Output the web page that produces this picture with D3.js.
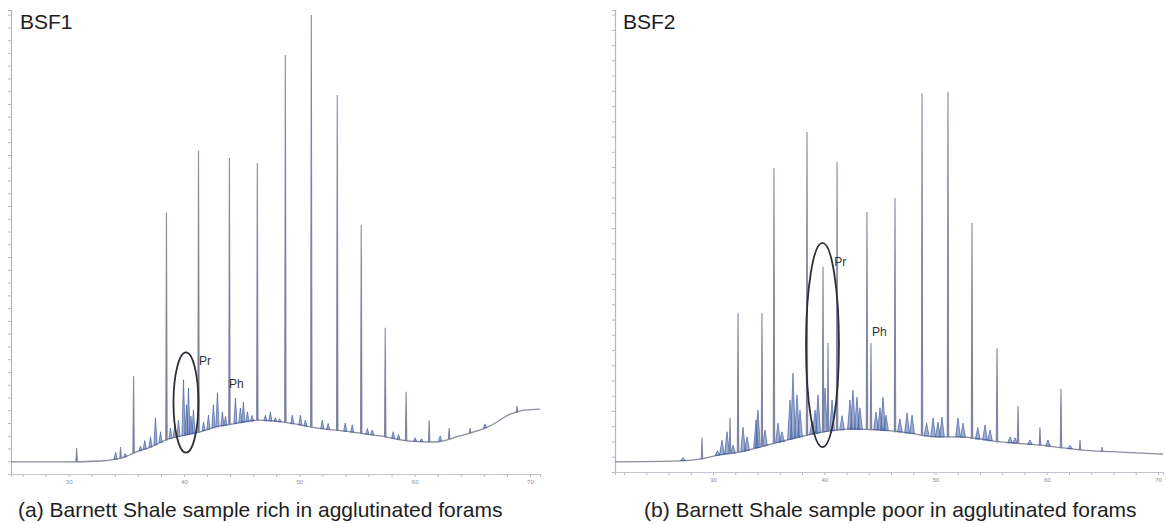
<!DOCTYPE html>
<html><head><meta charset="utf-8">
<script src="https://cdn.jsdelivr.net/npm/d3@7"></script>
<style>
body{margin:0;background:#fff}
svg{display:block}
text{font-family:"Liberation Sans",Arial,Helvetica,sans-serif}
</style>
</head><body>
<svg id="c" width="1166" height="523"></svg>
<script>
// ---------- DATA (retention time in minutes, relative intensity 0-100) ----------
const xTickLabels = [30, 40, 50, 60, 70];
const panelTitles = ["BSF1", "BSF2"];
const captions = ["(a) Barnett Shale sample rich in agglutinated forams",
                  "(b) Barnett  Shale sample poor in agglutinated forams"];
const peakLabels = ["Pr", "Ph"];

// Panel A (BSF1)
const baselineA = [[25.0,2.6],[29.3,2.6],[32.8,2.8],[34.1,3.2],[34.9,3.7],[35.6,4.5],[37.1,5.8],
  [38.6,7.5],[40.1,8.4],[41.4,9.1],[42.7,10.1],[44.3,10.8],[46.4,11.6],[48.6,11.2],[51.6,9.9],
  [54.4,9.1],[57.0,8.2],[59.6,7.1],[61.8,6.9],[63.9,8.2],[66.5,10.3],[68.3,12.9],[69.6,13.8],[70.87,14.0]];
const peaksA = [[30.69,5.6],[34.50,5.8],[35.63,21.1],[38.48,56.3],[41.26,69.6],[43.94,68.1],
  [46.36,67.0],[48.79,90.3],[51.04,98.9],[53.29,81.7],[55.37,53.7],[57.45,31.5],[59.26,17.7],
  [61.26,11.6],[62.99,9.9],[64.81,9.9],[68.87,14.7]];
const noiseA = [[34.07,4.7],[34.9,4.4],[36.23,6.0],[36.6,7.2],[37.10,8.0],[37.53,12.1],[37.97,9.1],
  [38.83,9.9],[39.2,10.8],[39.52,11.6],[39.96,20.3],[40.22,14.9],[40.39,18.5],[40.6,12.5],[40.82,13.8],
  [41.7,11.2],[42.12,12.7],[42.55,14.9],[42.90,17.5],[43.33,13.4],[43.6,12.4],[44.46,16.4],[44.89,14.2],
  [45.15,15.5],[45.50,13.4],[45.9,12.6],[47.06,12.7],[47.49,13.4],[47.92,12.1],[48.3,11.9],[49.39,12.7],
  [50.09,12.7],[50.52,11.6],[51.99,11.6],[52.5,10.9],[53.98,11.0],[54.59,10.6],[55.9,9.8],[56.32,9.5],
  [58.14,9.1],[58.6,8.5],[60.04,7.8],[60.6,7.6],[62.21,8.2],[66.10,10.8]];

// Panel B (BSF2)
const baselineB = [[21.19,2.2],[27.0,2.4],[28.8,2.8],[30.6,3.7],[32.4,4.3],[34.2,5.4],[36.0,6.5],
  [37.8,7.6],[39.9,8.7],[42.3,9.3],[45.0,9.1],[47.7,8.4],[50.0,7.6],[52.2,7.6],[55.8,6.5],
  [59.4,5.8],[63.0,4.8],[66.6,4.3],[70.45,3.9]];
const peaksB = [[29.01,7.4],[31.53,11.7],[32.25,34.4],[34.40,34.4],[35.48,65.8],[38.45,73.6],
  [39.89,44.4],[40.34,27.9],[41.15,67.1],[43.84,56.3],[44.20,27.9],[46.36,59.3],[48.79,82.0],
  [51.12,82.3],[53.28,53.9],[55.53,26.8],[57.42,14.3],[59.39,9.7],[61.28,18.0],[62.99,6.9],[64.97,5.4]];
const noiseB = [[27.3,3.1],[30.4,4.6],[30.81,6.9],[31.26,8.7],[31.80,5.8],[32.70,9.7],[33.06,7.6],
  [33.87,11.3],[34.04,13.4],[34.67,9.1],[35.84,10.6],[36.20,8.7],[36.92,15.6],[37.19,21.4],[37.55,16.7],
  [37.82,13.4],[38.9,11.0],[39.17,13.4],[39.44,16.7],[40.07,18.2],[40.70,15.6],[41.6,12.2],[42.31,15.6],
  [42.58,17.7],[42.94,16.2],[43.21,13.9],[44.65,13.0],[45.01,13.9],[45.28,16.2],[45.55,12.3],[46.8,11.5],
  [47.44,12.8],[47.89,12.3],[49.2,10.6],[49.78,11.7],[50.22,10.8],[50.58,11.9],[52.02,11.7],[52.47,10.6],
  [53.8,9.6],[54.45,10.2],[54.90,9.1],[56.70,7.6],[57.15,7.4],[58.49,6.9],[60.11,6.9],[62.09,5.8]];

// ---------- DRAW ----------
const svg = d3.select("#c");

function drawPanel(o) {
  const g = svg.append("g");
  const x = d3.scaleLinear().domain(o.tDomain).range(o.xRange);
  const y = d3.scaleLinear().domain([0, 100]).range(o.yRange);
  const base = d3.scaleLinear().domain(o.baseline.map(d => d[0])).range(o.baseline.map(d => d[1])).clamp(true);

  // y axis (unlabelled ticks)
  const yAxis = d3.axisLeft(y).tickValues(d3.range(0, 100.01, o.yStep)).tickSize(3).tickFormat("");
  const ya = g.append("g").attr("transform", `translate(${o.xRange[0]},0)`).call(yAxis);
  ya.select(".domain").attr("stroke", "#b8b8c4").attr("stroke-width", 1.2);
  ya.selectAll(".tick line").attr("stroke", "#b8b8c4");

  // x axis
  const minor = d3.range(Math.ceil(o.tDomain[0] / 2) * 2, o.tDomain[1], 2);
  const xAxis = d3.axisBottom(x).tickValues(minor).tickSize(3).tickPadding(3)
    .tickFormat(d => xTickLabels.includes(d) ? d : "");
  const xa = g.append("g").attr("transform", `translate(0,${o.yRange[0]})`).call(xAxis);
  xa.select(".domain").attr("stroke", "#c4c4d0").attr("stroke-width", 1.2);
  xa.selectAll(".tick line").attr("stroke", "#b8b8c4");
  xa.selectAll(".tick text").attr("fill", "#8a8a9a").style("font-size", "6px");

  // baseline
  g.append("path").datum(o.baseline)
    .attr("d", d3.line().x(d => x(d[0])).y(d => y(d[1])).curve(d3.curveMonotoneX))
    .attr("fill", "none").attr("stroke", "#8a8c9e").attr("stroke-width", 1.3);

  const spike = (w) => d => {
    const xc = x(d[0]), yb = y(base(d[0])), yt = y(d[1]);
    return `M${xc - w},${yb}L${xc},${yt}L${xc + w},${yb}Z`;
  };
  // blue unresolved / minor peaks
  g.selectAll(".noise").data(o.noise).enter().append("path")
    .attr("d", spike(o.noiseW)).attr("fill", "#4a68aa").attr("fill-opacity", 0.55)
    .attr("stroke", "#3f5c9e").attr("stroke-width", 0.8).attr("stroke-opacity", 0.8);
  // n-alkane peaks
  g.selectAll(".peak").data(o.peaks).enter().append("path")
    .attr("d", spike(0.7)).attr("fill", "#7a7e9f")
    .attr("stroke", "#7a7e9f").attr("stroke-width", 1.1).attr("stroke-opacity", 0.9);

  // Pr / Ph annotation
  g.append("ellipse")
    .attr("cx", x(o.ell[0])).attr("cy", y(o.ell[1]))
    .attr("rx", x(o.ell[0] + o.ell[2]) - x(o.ell[0]))
    .attr("ry", y(0) - y(o.ell[3]))
    .attr("fill", "none").attr("stroke", "#2e2e36").attr("stroke-width", 1.8);
  g.append("text").attr("x", x(o.pr[0])).attr("y", y(o.pr[1])).text(peakLabels[0])
    .attr("fill", "#333").style("font-size", "12px");
  g.append("text").attr("x", x(o.ph[0])).attr("y", y(o.ph[1])).text(peakLabels[1])
    .attr("fill", "#333").style("font-size", "12px");

  // title and caption
  g.append("text").attr("x", o.titleX).attr("y", 29).text(o.title)
    .attr("fill", "#1e1e1e").style("font-size", "21px");
  g.append("text").attr("x", o.capX).attr("y", 517).text(o.caption)
    .attr("fill", "#1e1e1e").style("font-size", "21px");
}

drawPanel({
  tDomain: [25.0, 70.87], xRange: [11, 540], yRange: [474, 10], yStep: 2.75, noiseW: 1.6,
  baseline: baselineA, peaks: peaksA, noise: noiseA,
  ell: [40.17, 15.4, 1.08, 10.8], pr: [41.3, 23.5], ph: [43.9, 18.5],
  title: panelTitles[0], titleX: 20, caption: captions[0], capX: 18
});
drawPanel({
  tDomain: [21.19, 70.45], xRange: [615, 1163], yRange: [472, 10], yStep: 3.3, noiseW: 2.4,
  baseline: baselineB, peaks: peaksB, noise: noiseB,
  ell: [39.84, 27.5, 1.48, 22.1], pr: [40.9, 44.5], ph: [44.3, 29.5],
  title: panelTitles[1], titleX: 623, caption: captions[1], capX: 644
});
</script>
</body></html>
